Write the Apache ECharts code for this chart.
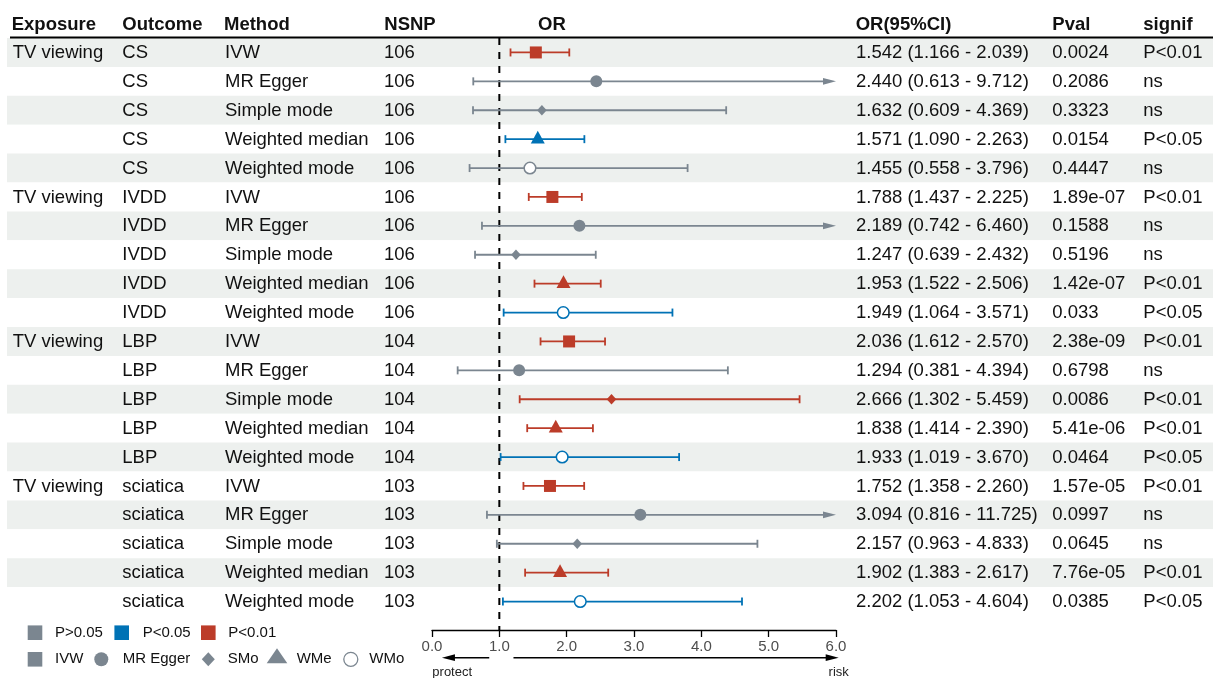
<!DOCTYPE html>
<html><head><meta charset="utf-8">
<script src="https://cdn.jsdelivr.net/npm/echarts@6/dist/echarts.min.js"></script>
<style>html,body{margin:0;padding:0;background:#fff}#c{width:1213px;height:678px}</style>
</head><body><div id="c"></div>
<script>
const exposure = ["TV viewing","","","","","TV viewing","","","","","TV viewing","","","","","TV viewing","","","",""];
const outcome = ["CS","CS","CS","CS","CS","IVDD","IVDD","IVDD","IVDD","IVDD","LBP","LBP","LBP","LBP","LBP","sciatica","sciatica","sciatica","sciatica","sciatica"];
const method = ["IVW","MR Egger","Simple mode","Weighted median","Weighted mode","IVW","MR Egger","Simple mode","Weighted median","Weighted mode","IVW","MR Egger","Simple mode","Weighted median","Weighted mode","IVW","MR Egger","Simple mode","Weighted median","Weighted mode"];
const nsnp = [106,106,106,106,106,106,106,106,106,106,104,104,104,104,104,103,103,103,103,103];
const orEst = [1.542,2.440,1.632,1.571,1.455,1.788,2.189,1.247,1.953,1.949,2.036,1.294,2.666,1.838,1.933,1.752,3.094,2.157,1.902,2.202];
const ciLow = [1.166,0.613,0.609,1.090,0.558,1.437,0.742,0.639,1.522,1.064,1.612,0.381,1.302,1.414,1.019,1.358,0.816,0.963,1.383,1.053];
const ciHigh = [2.039,9.712,4.369,2.263,3.796,2.225,6.460,2.432,2.506,3.571,2.570,4.394,5.459,2.390,3.670,2.260,11.725,4.833,2.617,4.604];
const pval = ["0.0024","0.2086","0.3323","0.0154","0.4447","1.89e-07","0.1588","0.5196","1.42e-07","0.033","2.38e-09","0.6798","0.0086","5.41e-06","0.0464","1.57e-05","0.0997","0.0645","7.76e-05","0.0385"];
const signif = ["P<0.01","ns","ns","P<0.05","ns","P<0.01","ns","ns","P<0.01","P<0.05","P<0.01","ns","P<0.01","P<0.01","P<0.05","P<0.01","ns","ns","P<0.01","P<0.05"];
const headers = ["Exposure","Outcome","Method","NSNP","OR","OR(95%CI)","Pval","signif"];
const xMin = 0, xMax = 6, xStep = 1;
const refValue = 1;
const legendP = ["P>0.05","P<0.05","P<0.01"];
const legendM = ["IVW","MR Egger","SMo","WMe","WMo"];
const dirLabels = ["protect","risk"];

const FONT = "'Liberation Sans', Arial, Helvetica, sans-serif";
const RED = '#bc3c29', BLUE = '#0072b5', GRAY = '#7b8690', BAND = '#edf0ee', TXT = '#111111';
const sigColor = s => s === 'P<0.01' ? RED : (s === 'P<0.05' ? BLUE : GRAY);
const rowIdx = method.map((_, i) => i);
const rowCats = rowIdx.map(String);
const colX = [12.7, 122.3, 225, 384, 856, 1052.3, 1143.3];
const headX = [11.7, 122.3, 224, 384.3, 538, 855.7, 1052.3, 1143.3];

function markShape(m, x, y, color) {
  if (m === 'IVW') return {type:'rect', shape:{x:x-6, y:y-6, width:12, height:12}, style:{fill:color}};
  if (m === 'MR Egger') return {type:'circle', shape:{cx:x, cy:y, r:6}, style:{fill:color}};
  if (m === 'Simple mode') return {type:'polygon', shape:{points:[[x,y-5.3],[x+4.8,y],[x,y+5.3],[x-4.8,y]]}, style:{fill:color}};
  if (m === 'Weighted median') return {type:'polygon', shape:{points:[[x,y-8.5],[x+7,y+4.3],[x-7,y+4.3]]}, style:{fill:color}};
  return {type:'circle', shape:{cx:x, cy:y, r:5.8}, style:{fill:'#fff', stroke:color, lineWidth:1.5}};
}

const chart = echarts.init(document.getElementById('c'));

const graphic = [];
headers.forEach((h, j) => graphic.push({type:'text', silent:true, style:{x:headX[j], y:25, text:h, fill:TXT, font:'bold 18.5px ' + FONT, verticalAlign:'middle'}}));
graphic.push({type:'line', silent:true, z:10, shape:{x1:10, y1:37.5, x2:1213, y2:37.5}, style:{stroke:'#000', lineWidth:2}});
// legend row 1
const ly1 = 632.7, ly2 = 659.3;
const pCols = [GRAY, BLUE, RED], pSq = [35, 121.7, 208.3], pTx = [55, 142.7, 228.3];
legendP.forEach((t, j) => {
  graphic.push({type:'rect', silent:true, shape:{x:pSq[j]-7.3, y:ly1-7.3, width:14.6, height:14.6}, style:{fill:pCols[j]}});
  graphic.push({type:'text', silent:true, style:{x:pTx[j], y:ly1, text:t, fill:TXT, font:'15px ' + FONT, verticalAlign:'middle'}});
});
// legend row 2
graphic.push({type:'rect', silent:true, shape:{x:35-7.3, y:ly2-7.3, width:14.6, height:14.6}, style:{fill:GRAY}});
graphic.push({type:'circle', silent:true, shape:{cx:101.3, cy:ly2, r:7}, style:{fill:GRAY}});
graphic.push({type:'polygon', silent:true, shape:{points:[[208.3,ly2-7],[214.8,ly2],[208.3,ly2+7],[201.8,ly2]]}, style:{fill:GRAY}});
graphic.push({type:'polygon', silent:true, shape:{points:[[277,ly2-11],[287.3,ly2+4],[266.7,ly2+4]]}, style:{fill:GRAY}});
graphic.push({type:'circle', silent:true, shape:{cx:350.8, cy:ly2, r:7}, style:{fill:'#fff', stroke:GRAY, lineWidth:1.3}});
const mTx = [55, 122.7, 227.7, 296.7, 369.3];
legendM.forEach((t, j) => graphic.push({type:'text', silent:true, style:{x:mTx[j], y:ly2, text:t, fill:TXT, font:'15px ' + FONT, verticalAlign:'middle'}}));

const option = {
  animation: false,
  backgroundColor: '#fff',
  graphic: graphic,
  grid: [
    {left: 432, width: 404, top: 38, height: 578},
    {left: 7, right: 0, top: 38, height: 578}
  ],
  xAxis: [
    {type:'value', gridIndex:0, min:xMin, max:xMax, interval:xStep, position:'bottom', offset:14,
     axisLine:{show:true, lineStyle:{color:'#000', width:1.3}},
     axisTick:{show:true, length:7, lineStyle:{color:'#000', width:1.3}},
     axisLabel:{show:true, margin:9, color:'#4d4d4d', fontSize:15, fontFamily:FONT, showMinLabel:true, showMaxLabel:true, formatter: v => v.toFixed(1)},
     splitLine:{show:false}},
    {type:'value', gridIndex:1, min:0, max:1, show:false}
  ],
  yAxis: [
    {type:'category', gridIndex:0, data:rowCats, inverse:true, show:false},
    {type:'category', gridIndex:1, data:rowCats, inverse:true,
     axisLine:{show:false}, axisTick:{show:false}, axisLabel:{show:false, interval:0}, splitLine:{show:false},
     splitArea:{show:true, interval:0, areaStyle:{color:[BAND, '#ffffff']}}}
  ],
  series: [
    { // table text
      type:'custom', xAxisIndex:1, yAxisIndex:1, silent:true, z:2,
      data: rowIdx.map(i => [0.5, i]),
      renderItem: (params, api) => {
        const k = params.dataIndex;
        const y = api.coord([0.5, k])[1];
        const orTxt = orEst[k].toFixed(3) + ' (' + ciLow[k].toFixed(3) + ' - ' + ciHigh[k].toFixed(3) + ')';
        const vals = [exposure[k], outcome[k], method[k], String(nsnp[k]), orTxt, pval[k], signif[k]];
        return {type:'group', children: vals.map((t, j) => ({type:'text', style:{x:colX[j], y:y+0.5, text:t, fill:TXT, font:'18.5px ' + FONT, verticalAlign:'middle'}}))};
      }
    },
    { // reference dashed line
      type:'custom', xAxisIndex:0, yAxisIndex:0, silent:true, z:3,
      data: [[refValue, 0]],
      renderItem: (params, api) => {
        const x = api.coord([api.value(0), 0])[0];
        const cs = params.coordSys;
        return {type:'line', shape:{x1:x, y1:cs.y, x2:x, y2:cs.y + cs.height + 14}, style:{stroke:'#000', lineWidth:2, lineDash:[7,7]}};
      }
    },
    { // forest marks
      type:'custom', xAxisIndex:0, yAxisIndex:0, silent:true, z:4,
      data: rowIdx.map(i => [orEst[i], i, ciLow[i], ciHigh[i]]),
      renderItem: (params, api) => {
        const k = params.dataIndex;
        const col = sigColor(signif[k]);
        const est = api.value(0), lo = api.value(2), hi = api.value(3);
        const p = api.coord([est, k]);
        const y = p[1];
        const xl = api.coord([lo, k])[0];
        const clipped = hi > xMax;
        const xh = api.coord([Math.min(hi, xMax), k])[0];
        const lw = 1.8;
        const ch = [];
        ch.push({type:'line', shape:{x1:xl, y1:y, x2:clipped ? xh - 10 : xh, y2:y}, style:{stroke:col, lineWidth:lw}});
        ch.push({type:'line', shape:{x1:xl, y1:y-4, x2:xl, y2:y+4}, style:{stroke:col, lineWidth:lw}});
        if (clipped) {
          ch.push({type:'polygon', shape:{points:[[xh, y],[xh-13, y-3.4],[xh-13, y+3.4]]}, style:{fill:col}});
        } else {
          ch.push({type:'line', shape:{x1:xh, y1:y-4, x2:xh, y2:y+4}, style:{stroke:col, lineWidth:lw}});
        }
        ch.push(markShape(method[k], p[0], y, col));
        return {type:'group', children: ch};
      }
    },
    { // direction arrows
      type:'custom', xAxisIndex:0, yAxisIndex:0, silent:true, z:4,
      data: [[0.85, 0.148, 0], [1.21, 6.04, 1]],
      renderItem: (params, api) => {
        const cs = params.coordSys;
        const y = cs.y + cs.height + 41.7;
        const x1 = api.coord([api.value(0), 0])[0];
        const x2 = api.coord([api.value(1), 0])[0];
        const dir = x2 > x1 ? 1 : -1;
        const k = params.dataIndex;
        const labX = k === 0 ? api.coord([0.3, 0])[0] : x2;
        return {type:'group', children:[
          {type:'line', shape:{x1:x1, y1:y, x2:x2 - dir*11, y2:y}, style:{stroke:'#000', lineWidth:1.5}},
          {type:'polygon', shape:{points:[[x2, y],[x2 - dir*13, y-3.4],[x2 - dir*13, y+3.4]]}, style:{fill:'#000'}},
          {type:'text', style:{x:labX, y:y+15, text:dirLabels[k], fill:'#222', font:'13px ' + FONT, align:'center', verticalAlign:'middle'}}
        ]};
      }
    }
  ]
};
chart.setOption(option);
</script>
</body></html>
